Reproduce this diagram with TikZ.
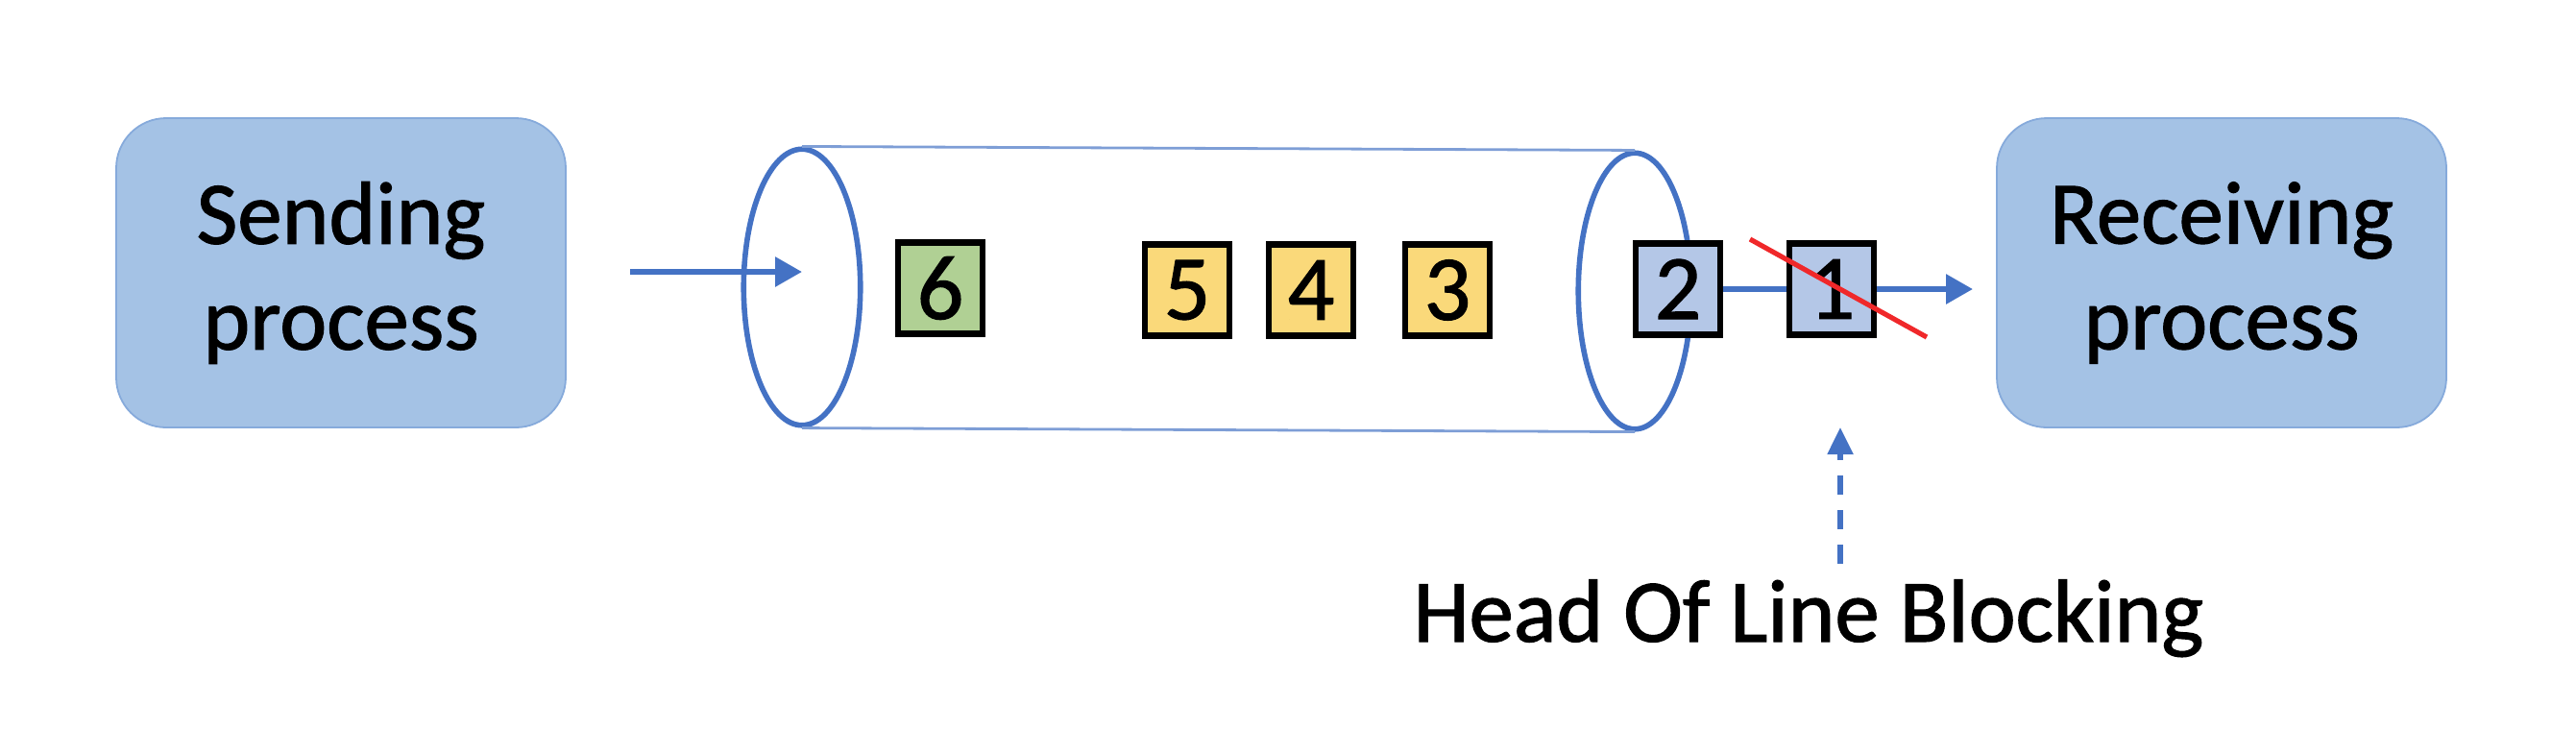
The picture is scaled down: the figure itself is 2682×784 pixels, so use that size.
\documentclass[tikz,border=0pt]{standalone}
\usepackage{fontspec}
\setmainfont{Carlito}[FakeBold=0.6]
\newfontfamily\heavyish{Carlito}[FakeBold=1.2]
\usetikzlibrary{shapes.geometric,arrows.meta}
\definecolor{procfill}{HTML}{A4C2E5}
\definecolor{procdraw}{HTML}{86AADB}
\definecolor{pipeblue}{HTML}{4472C4}
\definecolor{pipeline}{HTML}{7E9ED6}
\definecolor{pktgreen}{HTML}{B0D094}
\definecolor{pktyellow}{HTML}{FAD97A}
\definecolor{pktblue}{HTML}{B4C7E7}
\definecolor{strikered}{HTML}{F0282A}
\begin{document}
\begin{tikzpicture}[x=0.5pt,y=-0.5pt,
  proc/.style={draw=procdraw, line width=0.9pt, fill=procfill, rounded corners=26pt,
    minimum width=234pt, minimum height=161pt, align=center, inner sep=0pt,
    font=\heavyish\fontsize{46.5}{55}\selectfont},
  pipeend/.style={ellipse, draw=pipeblue, line width=2.8pt, inner sep=0pt},
  pipeside/.style={draw=pipeline, line width=1.4pt},
  pkt/.style={draw=black, line width=3.4pt, minimum width=44pt, minimum height=47.5pt,
    inner sep=0pt, font=\heavyish\fontsize{48}{52}\selectfont},
  flow/.style={draw=pipeblue, line width=3pt, -{Triangle[length=14pt,width=15pt]}},
  link/.style={draw=pipeblue, line width=3pt},
  hint/.style={draw=pipeblue, line width=2.6pt, dash pattern=on 10pt off 8pt,
    -{Triangle[length=14pt,width=13pt]}},
  strike/.style={draw=strikered, line width=2.6pt},
  label/.style={font=\heavyish\fontsize{46.5}{55}\selectfont, inner sep=0pt}
]
\useasboundingbox (0,0) rectangle (2682,784);

% processes
\node[proc] (send) at (355,284) {Sending\\process};
\node[proc] (recv) at (2313,284) {Receiving\\process};

% pipe
\node[pipeend, minimum width=60.75pt, minimum height=143.75pt] (lend) at (835,299) {};
\node[pipeend, minimum width=58.75pt, minimum height=143.75pt] (rend) at (1702,303) {};
\draw[pipeside] (lend.north) -- (rend.north);
\draw[pipeside] (lend.south) -- (rend.south);

% arrow into pipe
\coordinate (inStart) at (656,283);
\coordinate (inTip) at (835,283);
\draw[flow] (inStart) -- (inTip);

% packets
\node[pkt, fill=pktgreen]  (p6) at (979,300) {6};
\node[pkt, fill=pktyellow] (p5) at (1236,302) {5};
\node[pkt, fill=pktyellow] (p4) at (1365,302) {4};
\node[pkt, fill=pktyellow] (p3) at (1507,302) {3};
\node[pkt, fill=pktblue]   (p2) at (1747,301) {2};
\node[pkt, fill=pktblue]   (p1) at (1907,301) {1};

% out arrow
\coordinate (outTip) at (2054,301);
\draw[link] (p2.east) -- (p1.west);
\draw[flow] (p1.east) -- (outTip);

% strike-through
\coordinate (sA) at (1822,249);
\coordinate (sB) at (2006,351);
\draw[strike] (sA) -- (sB);

% head of line blocking
\node[label, anchor=base] (hol) at (1883,668) {Head Of Line Blocking};
\coordinate (hBot) at (1916,587);
\coordinate (hTop) at (1916,445);
\draw[hint] (hBot) -- (hTop);
\end{tikzpicture}
\end{document}
